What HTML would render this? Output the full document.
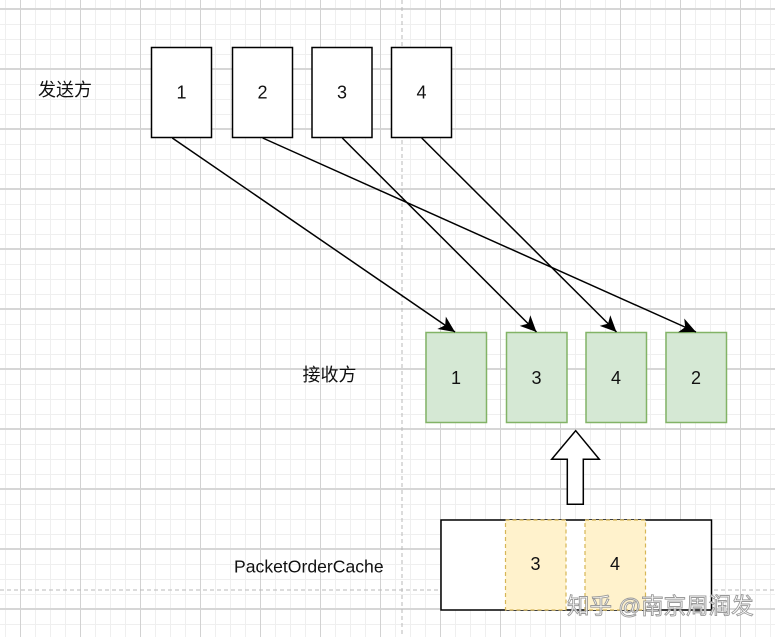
<!DOCTYPE html>
<html>
<head>
<meta charset="utf-8">
<style>
html,body{margin:0;padding:0;background:#fff;}
svg{display:block;}
text{font-family:"Liberation Sans","Noto Sans CJK SC",sans-serif;}
</style>
</head>
<body>
<svg width="775" height="637" viewBox="0 0 775 637" xmlns="http://www.w3.org/2000/svg">
<defs>
  <pattern id="minor" patternUnits="userSpaceOnUse" x="5" y="9" width="15" height="15">
    <rect x="0" y="0" width="1" height="15" fill="#efefef"/>
    <rect x="0" y="0" width="15" height="1" fill="#efefef"/>
  </pattern>
  <pattern id="majorV" patternUnits="userSpaceOnUse" x="20" y="0" width="60" height="637">
    <rect x="0" y="0" width="1" height="637" fill="#d2d2d2"/>
  </pattern>
  <pattern id="majorH" patternUnits="userSpaceOnUse" x="0" y="8" width="775" height="60">
    <rect x="0" y="0" width="775" height="2" fill="#d6d6d6"/>
  </pattern>
  <marker id="ah" markerUnits="userSpaceOnUse" markerWidth="20" markerHeight="20" refX="0" refY="0" viewBox="-14 -8 16 16" orient="auto">
    <path d="M0,0 L-13,-6 L-9.5,0 L-13,6 Z" fill="#000"/>
  </marker>
</defs>

<rect width="775" height="637" fill="#fff"/>
<rect width="775" height="637" fill="url(#minor)"/>
<rect width="775" height="637" fill="url(#majorH)"/>
<rect width="775" height="637" fill="url(#majorV)"/>

<!-- dashed guides -->
<line x1="402" y1="0" x2="402" y2="637" stroke="#b8b8b8" stroke-width="1" stroke-dasharray="4 3"/>
<line x1="0" y1="590" x2="775" y2="590" stroke="#b8b8b8" stroke-width="1" stroke-dasharray="4 3"/>

<!-- labels -->
<text x="38" y="96" font-size="18" fill="#111">发送方</text>
<text x="302.5" y="381" font-size="18" fill="#111">接收方</text>
<text x="234" y="572.5" font-size="17.6" fill="#111">PacketOrderCache</text>

<!-- sender boxes -->
<g stroke="#000" stroke-width="1.5" fill="#fff">
  <rect x="151.5" y="47.5" width="60" height="90"/>
  <rect x="232.5" y="47.5" width="60" height="90"/>
  <rect x="312" y="47.5" width="60" height="90"/>
  <rect x="391.5" y="47.5" width="60" height="90"/>
</g>
<g font-size="18" fill="#111" text-anchor="middle">
  <text x="181.5" y="98.5">1</text>
  <text x="262.5" y="98.5">2</text>
  <text x="342" y="98.5">3</text>
  <text x="421.5" y="98.5">4</text>
</g>

<!-- receiver boxes -->
<g stroke="#82b366" stroke-width="1.5" fill="#d5e8d4">
  <rect x="426" y="332.5" width="60.5" height="90"/>
  <rect x="506.5" y="332.5" width="60.5" height="90"/>
  <rect x="586" y="332.5" width="60.5" height="90"/>
  <rect x="666" y="332.5" width="60.5" height="90"/>
</g>
<g font-size="18" fill="#111" text-anchor="middle">
  <text x="456" y="384">1</text>
  <text x="536.5" y="384">3</text>
  <text x="616" y="384">4</text>
  <text x="696" y="384">2</text>
</g>

<!-- arrows -->
<g stroke="#000" stroke-width="1.5" fill="none">
  <line x1="172.3" y1="138" x2="455" y2="332" marker-end="url(#ah)"/>
  <line x1="262.7" y1="138" x2="696" y2="332" marker-end="url(#ah)"/>
  <line x1="342.3" y1="138" x2="536.5" y2="332" marker-end="url(#ah)"/>
  <line x1="421.7" y1="138" x2="616.5" y2="332" marker-end="url(#ah)"/>
</g>

<!-- block arrow -->
<polygon points="575.7,430.7 599.3,459.3 583.3,459.3 583.3,504.3 567.3,504.3 567.3,459.3 551.7,459.3" fill="#fff" stroke="#000" stroke-width="1.5" stroke-linejoin="miter"/>

<!-- cache -->
<rect x="441" y="520" width="270.5" height="90" fill="#fff" stroke="#000" stroke-width="1.5"/>
<g fill="#fff2cc" stroke="#d6b656" stroke-width="1.2" stroke-dasharray="4 3">
  <rect x="505.5" y="520" width="60.5" height="90"/>
  <rect x="585" y="520" width="60.5" height="90"/>
</g>
<g font-size="18" fill="#111" text-anchor="middle">
  <text x="535.5" y="570">3</text>
  <text x="615" y="570">4</text>
</g>

<!-- watermark -->
<text x="567" y="614" font-size="22.5" fill="#ffffff" fill-opacity="0.85" stroke="#9a9a9a" stroke-width="0.9" font-family="'Liberation Sans','Noto Sans CJK SC',sans-serif">知乎 @南京周润发</text>
</svg>
</body>
</html>
